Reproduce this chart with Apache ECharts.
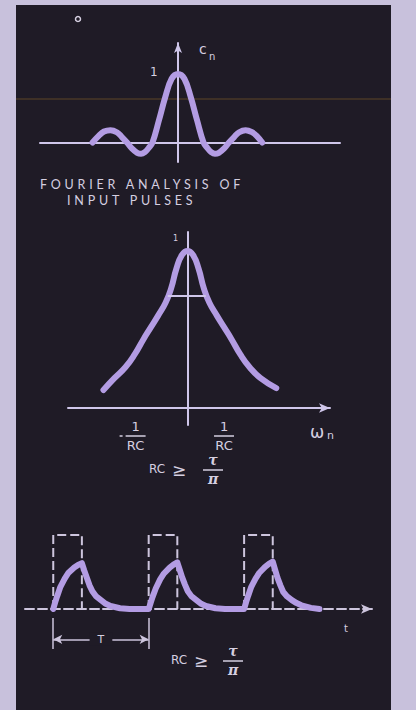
<!DOCTYPE html>
<html>
<head>
<meta charset="utf-8">
<title>Fourier analysis of input pulses</title>
<script src="https://cdn.jsdelivr.net/npm/echarts@6/dist/echarts.min.js"></script>
<style>
    html, body { margin: 0; padding: 0; background: #c8c1dc; }
    #main { width: 416px; height: 710px; }
    #main text[style*="Lato"], #main text[font-family*="Lato"] { letter-spacing: 3.8px; }
</style>
</head>
<body>
<div id="main"></div>
<script>
// 上图：输入脉冲的傅里叶系数 c_n（单位：主瓣零点 = 1）
var sincX = [-3.35, -3.1, -2.9, -2.65, -2.4, -2.2, -2.0, -1.8, -1.6, -1.45, -1.3, -1.15, -1.0, -0.75, -0.5, -0.25, 0,
             0.25, 0.5, 0.75, 1.0, 1.15, 1.3, 1.45, 1.6, 1.8, 2.0, 2.2, 2.4, 2.65, 2.9, 3.1, 3.3];
var sincY = [0, 0.1, 0.16, 0.18, 0.15, 0.08, 0, -0.09, -0.15, -0.165, -0.14, -0.08, 0, 0.32, 0.66, 0.93, 1.0,
             0.93, 0.66, 0.32, 0, -0.08, -0.14, -0.165, -0.15, -0.09, 0, 0.08, 0.15, 0.18, 0.15, 0.09, 0];

// 中图：RC 网络的频率响应（x 单位 1/RC）
var bellX = [-2.3, -2.0, -1.7, -1.45, -1.2, -1.0, -0.8, -0.6, -0.45, -0.3, -0.15, 0,
             0.15, 0.3, 0.45, 0.6, 0.8, 1.0, 1.2, 1.45, 1.7, 2.0, 2.43];
var bellY = [0.115, 0.19, 0.26, 0.34, 0.44, 0.515, 0.59, 0.67, 0.76, 0.89, 0.975, 1.0,
             0.975, 0.89, 0.76, 0.67, 0.59, 0.515, 0.44, 0.34, 0.26, 0.19, 0.127];
var halfMark = [-0.54, 0.5, 0.713];   // 左端, 右端, 高度
var tickX = [-1.42, 1];               // -1/RC, 1/RC

// 下图：输入脉冲串和 RC 输出（周期 T = 10，脉宽 = 3）
var pulseStart = [0, 10, 20];
var pulseWidth = 3;
var pulseHeight = 1;
var outT = [0, 0.2, 0.4, 0.75, 1.2, 1.6, 2.2, 2.6, 3, 3.25, 3.5, 3.8, 4.1, 4.5, 5, 5.5, 6, 7, 8, 10,
            10.2, 10.4, 10.75, 11.2, 11.6, 12.2, 12.6, 13, 13.25, 13.5, 13.8, 14.1, 14.5, 15, 15.5, 16, 17, 18, 20,
            20.2, 20.4, 20.75, 21.2, 21.6, 22.2, 22.6, 23, 23.25, 23.5, 23.8, 24.1, 24.5, 25, 25.5, 26, 27, 27.9];
var outV = [0, 0.09, 0.17, 0.3, 0.41, 0.49, 0.56, 0.595, 0.62, 0.52, 0.43, 0.32, 0.24, 0.17, 0.12, 0.07, 0.04, 0.01, 0, 0,
            0.08, 0.16, 0.28, 0.4, 0.48, 0.56, 0.6, 0.63, 0.53, 0.43, 0.33, 0.24, 0.17, 0.12, 0.07, 0.04, 0.01, 0, 0,
            0.09, 0.17, 0.3, 0.41, 0.49, 0.57, 0.61, 0.64, 0.53, 0.42, 0.32, 0.23, 0.17, 0.12, 0.08, 0.05, 0.015, 0];
var period = [0, 10];

var curveColor = '#b39ce3';
var axisColor = '#cfc6ea';
var dashColor = '#cdc5dd';
var textColor = '#d5cfe0';
var panelColor = '#1f1b26';

function pairs(xs, ys) {
    var d = [];
    for (var i = 0; i < xs.length; i++) {
        d.push([xs[i], ys[i]]);
    }
    return d;
}

function hiddenAxis(extra) {
    var a = {
        type: 'value',
        axisTick: {show: false},
        axisLabel: {show: false},
        splitLine: {show: false},
        axisLine: {onZero: true, lineStyle: {color: axisColor, width: 2}}
    };
    for (var k in extra) a[k] = extra[k];
    return a;
}

var curveStyle = {color: curveColor, width: 6, cap: 'round', join: 'round'};

var series = [
    {
        type: 'line', xAxisIndex: 0, yAxisIndex: 0,
        data: pairs(sincX, sincY), smooth: 0.4, symbol: 'none',
        lineStyle: curveStyle
    },
    {
        type: 'line', xAxisIndex: 1, yAxisIndex: 1,
        data: pairs(bellX, bellY), smooth: 0.5, symbol: 'none',
        lineStyle: curveStyle,
        markLine: {
            silent: true, symbol: 'none', label: {show: false},
            lineStyle: {color: axisColor, width: 2, type: 'solid'},
            data: [[{coord: [halfMark[0], halfMark[2]]}, {coord: [halfMark[1], halfMark[2]]}]]
        }
    }
];

// 虚线矩形脉冲
for (var i = 0; i < pulseStart.length; i++) {
    var s = pulseStart[i];
    series.push({
        type: 'line', xAxisIndex: 2, yAxisIndex: 2,
        data: [[s, 0], [s, pulseHeight], [s + pulseWidth, pulseHeight], [s + pulseWidth, 0]],
        symbol: 'none',
        lineStyle: {color: dashColor, width: 2, type: [9, 4]}
    });
}

// 周期 T 的标注
series[2].markLine = {
    silent: true, label: {show: false},
    lineStyle: {color: dashColor, width: 1.5, type: 'solid'},
    symbolSize: [7, 9],
    data: [
        [{coord: [period[0], -0.12], symbol: 'none'}, {coord: [period[0], -0.54], symbol: 'none'}],
        [{coord: [period[1], -0.12], symbol: 'none'}, {coord: [period[1], -0.54], symbol: 'none'}],
        [{coord: [period[0], -0.41], symbol: 'arrow'}, {coord: [period[1], -0.41], symbol: 'arrow'}]
    ]
};

series.push({
    type: 'line', xAxisIndex: 2, yAxisIndex: 2,
    data: pairs(outT, outV), smooth: false, symbol: 'none',
    lineStyle: curveStyle, z: 4
});

var chart = echarts.init(document.getElementById('main'), null, {renderer: 'svg'});
chart.setOption({
    animation: false,
    backgroundColor: '#c8c1dc',
    grid: [
        {left: 40, top: 43, width: 300, height: 119},
        {left: 68, top: 232, width: 262, height: 193},
        {left: 25, top: 527, width: 347, height: 127}
    ],
    xAxis: [
        hiddenAxis({gridIndex: 0, min: -5.41, max: 6.35}),
        hiddenAxis({gridIndex: 1, min: -3.27, max: 3.9,
            axisLine: {onZero: true, symbol: ['none', 'arrow'], symbolSize: [7, 11],
                lineStyle: {color: axisColor, width: 2}}}),
        hiddenAxis({gridIndex: 2, min: -2.96, max: 33.4,
            axisLine: {onZero: true, symbol: ['none', 'arrow'], symbolSize: [7, 11],
                lineStyle: {color: dashColor, width: 2, type: [9, 4]}}})
    ],
    yAxis: [
        hiddenAxis({gridIndex: 0, min: -0.284, max: 1.45, z: 3,
            axisLine: {onZero: true, symbol: ['none', 'arrow'], symbolSize: [6, 10],
                lineStyle: {color: axisColor, width: 2}}}),
        hiddenAxis({gridIndex: 1, min: -0.108, max: 1.121, z: 3}),
        hiddenAxis({gridIndex: 2, min: -0.608, max: 1.108, show: false})
    ],
    series: series
});

function txt(text, x, y, size, extra) {
    var st = {
        text: text, x: x, y: y, fill: textColor,
        font: (extra && extra.font) || (size + 'px "DejaVu Sans"'),
        textAlign: (extra && extra.align) || 'left',
        textVerticalAlign: 'middle'
    };
    if (extra && extra.bg) {
        st.backgroundColor = extra.bg;
        st.padding = [1, 8];
    }
    return {type: 'text', z: 100, style: st};
}

function bar(x1, x2, y) {
    return {type: 'line', z: 100, shape: {x1: x1, y1: y, x2: x2, y2: y},
        style: {stroke: textColor, lineWidth: 1.5}};
}

// 分数：分子、横线、分母
function frac(cx, y, num, den, size, font) {
    return [
        txt(num, cx, y, size, {align: 'center', font: font}),
        bar(cx - 10, cx + 10, y + 10),
        txt(den, cx, y + 19, size, {align: 'center', font: font})
    ];
}

var g = [
    {type: 'rect', z: -1, shape: {x: 16, y: 5, width: 375, height: 705}, style: {fill: panelColor}},
    {type: 'rect', z: 0, shape: {x: 16, y: 98, width: 375, height: 2}, style: {fill: 'rgba(120,88,40,0.35)'}},
    {type: 'circle', z: 100, shape: {cx: 78, cy: 19, r: 2.5}, style: {fill: 'none', stroke: textColor, lineWidth: 1.5}},
    txt('c', 199, 49, 14),
    txt('n', 209, 56, 10),
    txt('1', 150, 72, 12),
    txt('FOURIER ANALYSIS OF', 40, 184, 12.5, {font: '12.5px Lato'}),
    txt('INPUT PULSES', 67, 200, 12.5, {font: '12.5px Lato'}),
    txt('1', 173, 238, 8),
    txt('ω', 310, 432, 17),
    txt('n', 327, 435, 11),
    txt('RC', 149, 469, 12),
    txt('≥', 172, 470, 17),
    txt('RC', 171, 660, 12),
    txt('≥', 194, 661, 17),
    txt('t', 344, 628, 10)
];

for (var j = 0; j < tickX.length; j++) {
    var px = chart.convertToPixel({gridIndex: 1}, [tickX[j], 0])[0];
    g = g.concat(frac(px, 426, '1', 'RC', 13));
    if (tickX[j] < 0) g.push(bar(px - 16, px - 13, 436));
}
g = g.concat(frac(213, 460, 'τ', 'π', 14, 'italic bold 14px "DejaVu Serif"'));
g = g.concat(frac(233, 651, 'τ', 'π', 14, 'italic bold 14px "DejaVu Serif"'));

var mid = chart.convertToPixel({gridIndex: 2}, [(period[0] + period[1]) / 2, -0.41]);
g.push(txt('T', mid[0], mid[1], 11, {align: 'center', bg: panelColor}));

chart.setOption({graphic: g});
</script>
</body>
</html>
